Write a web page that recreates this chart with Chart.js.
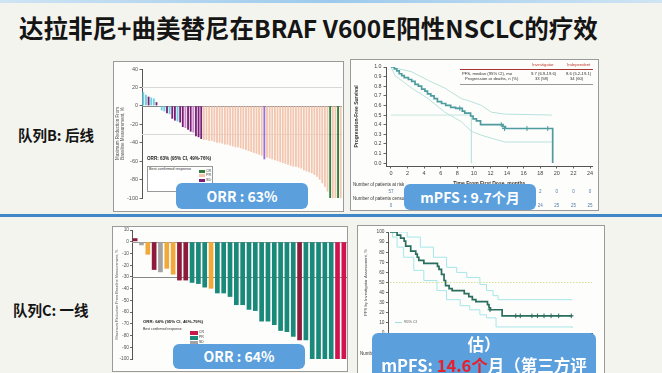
<!DOCTYPE html>
<html>
<head>
<meta charset="utf-8">
<script src="https://cdn.jsdelivr.net/npm/chart.js@4.4.1/dist/chart.umd.min.js"></script>
<style>
  body { margin:0; width:662px; height:373px; overflow:hidden; background:#f4f4ee; position:relative;
         font-family:"Liberation Sans", Arial, sans-serif; }
  .abs { position:absolute; }
  .panel { position:absolute; background:#fdfdfc; border:1px solid #9a9a9a; box-sizing:border-box; }
  canvas { position:absolute; }
  .tag { position:absolute; background:#5b9fdc; border-radius:6px; color:#fff; text-align:center;
         font-family:"Noto Sans CJK SC", sans-serif; font-weight:bold; }
  .cjk { font-family:"Noto Sans CJK SC", sans-serif; font-weight:bold; color:#151515; white-space:nowrap; }
  .tiny { position:absolute; white-space:nowrap; color:#333; line-height:1; }
</style>
</head>
<body>

<div class="abs" style="left:0;top:0;width:662px;height:3px;background:linear-gradient(to right,#cfe4f4,#9ccaec,#cfe4f4)"></div>
<div class="abs cjk" style="left:19px;top:12px;font-size:24.5px;line-height:32px">达拉非尼+曲美替尼在BRAF V600E阳性NSCLC的疗效</div>
<div class="abs" style="left:0;top:214px;width:662px;height:3px;background:#3f87c7"></div>

<div class="abs cjk" style="left:18px;top:125px;font-size:14.5px;line-height:20px">队列B: 后线</div>
<div class="abs cjk" style="left:13px;top:300px;font-size:14.5px;line-height:20px">队列C: 一线</div>

<div class="panel" style="left:113px;top:61px;width:231px;height:151px"></div>
<div class="panel" style="left:350px;top:59px;width:249px;height:152px"></div>
<div class="panel" style="left:112px;top:226px;width:236px;height:146px"></div>
<div class="panel" style="left:357px;top:225px;width:248px;height:150px"></div>

<canvas id="wfB" width="230" height="150" style="left:113px;top:61px"></canvas>
<canvas id="kmB" width="248" height="151" style="left:350px;top:59px"></canvas>
<canvas id="wfC" width="235" height="145" style="left:112px;top:226px"></canvas>
<canvas id="kmC" width="248" height="148" style="left:357px;top:225px"></canvas>

<!-- cohort B waterfall legend -->
<div class="tiny" style="left:147px;top:157px;font-size:4.6px;font-weight:bold;color:#222">ORR: 63% (95% CI, 49%-76%)</div>
<div class="abs" style="left:147px;top:166px;width:66px;height:26px;border:0.8px solid #999;background:#fff;box-sizing:border-box"></div>
<div class="tiny" style="left:149px;top:168px;font-size:3.8px">Best confirmed response</div>
<div class="abs" style="left:199px;top:169.5px;width:6px;height:3px;background:#2f7d3a"></div>
<div class="abs" style="left:199px;top:174px;width:6px;height:3px;background:#f3c6b0"></div>
<div class="abs" style="left:199px;top:178.5px;width:6px;height:3px;background:#7a1f78"></div>
<div class="tiny" style="left:206px;top:169.5px;font-size:3.6px">CR</div>
<div class="tiny" style="left:206px;top:174px;font-size:3.6px">PR</div>
<div class="tiny" style="left:206px;top:178.5px;font-size:3.6px">SD</div>

<!-- cohort B PFS inset table -->
<div class="tiny" style="left:532px;top:62.5px;font-size:4.2px;color:#c0392b">Investigator</div>
<div class="tiny" style="left:567px;top:62.5px;font-size:4.2px;color:#c0392b">Independent</div>
<div class="abs" style="left:460px;top:68.5px;width:133px;height:0.8px;background:#a33"></div>
<div class="tiny" style="left:462px;top:71.5px;font-size:4.2px">PFS, median (95% CI), mo</div>
<div class="tiny" style="left:531px;top:71.5px;font-size:4.2px">9.7 (6.9-19.6)</div>
<div class="tiny" style="left:566px;top:71.5px;font-size:4.2px">8.6 (5.2-19.1)</div>
<div class="tiny" style="left:465px;top:76.5px;font-size:4.2px">Progression or deaths, n (%)</div>
<div class="tiny" style="left:535px;top:76.5px;font-size:4.2px">33 (58)</div>
<div class="tiny" style="left:570px;top:76.5px;font-size:4.2px">34 (60)</div>
<div class="abs" style="left:460px;top:84px;width:133px;height:0.7px;background:#999"></div>

<!-- cohort C waterfall legend -->
<div class="tiny" style="left:143px;top:320px;font-size:4.3px;font-weight:bold;color:#222">ORR: 64% (95% CI, 46%-79%)</div>
<div class="tiny" style="left:143px;top:328px;font-size:3.5px">Best confirmed response</div>
<div class="abs" style="left:190px;top:331px;width:8px;height:3.5px;background:#c41848"></div>
<div class="abs" style="left:190px;top:336px;width:8px;height:3.5px;background:#19897a"></div>
<div class="abs" style="left:190px;top:341px;width:8px;height:3.5px;background:#a3a3a3"></div>
<div class="tiny" style="left:199px;top:331px;font-size:3.4px">CR</div>
<div class="tiny" style="left:199px;top:336px;font-size:3.4px">PR</div>
<div class="tiny" style="left:199px;top:341px;font-size:3.4px">SD</div>

<!-- cohort C PFS legend -->
<div class="abs" style="left:395px;top:322px;width:7px;height:1px;background:#9fe0e2"></div>
<div class="tiny" style="left:404px;top:320px;font-size:4px;color:#555">95% CI</div>

<div class="tag" style="left:176px;top:183px;width:132px;height:26px;font-size:14px;line-height:26px">ORR : 63%</div>
<div class="tag" style="left:404px;top:184px;width:132px;height:26px;font-size:14px;line-height:26px">mPFS : 9.7个月</div>
<div class="tag" style="left:173px;top:344px;width:132px;height:25px;font-size:14px;line-height:25px">ORR : 64%</div>
<div class="tag" style="left:372px;top:333px;width:224px;height:46px;font-size:16.5px;line-height:21px;padding-top:1px;box-sizing:border-box">估）<br>mPFS: <span style="color:#e8202a">14.6个</span>月（第三方评</div>

<script>
// ---- cohort B waterfall ----
var valsB = [15, 12, 10, 9, 8, 4, -1,
  -5, -6, -8, -9, -14, -16, -17, -18, -23, -24, -26, -28, -29, -33, -34, -36,
  -37, -37, -38, -38, -39, -40, -40, -41, -42, -42, -43, -44, -45, -45, -46, -47, -48, -49, -50, -51,
  -52, -53, -54, -58, -56, -57, -58, -59, -60, -61, -62, -63, -64, -65, -66, -66, -67, -68, -70, -71,
  -72, -73, -75, -77, -80, -84, -88, -93, -100, -100, -100, -100, -100];
var respB = ['c', 'c', 'p', 'c', 'c', 'p', 'c',
  'c', 'c', 'p', 'c', 'p', 'p', 'c', 'p', 'p', 'l', 'p', 'p', 'l', 'p', 'p', 'p',
  'r', 'r', 'r', 'r', 'r', 'r', 'r', 'r', 'r', 'r', 'r', 'r', 'r', 'r', 'r', 'r', 'r', 'r', 'r', 'r',
  'r', 'r', 'r', 'v', 'r', 'r', 'r', 'r', 'r', 'r', 'r', 'r', 'r', 'r', 'r', 'r', 'r', 'r', 'r', 'r',
  'r', 'r', 'r', 'r', 'r', 'r', 'r', 'r', 'g', 'r', 'r', 'g', 'r'];
var colB = { c: '#6cd0de', p: '#7a1f78', l: '#c98ccb', r: '#f3c6b0', v: '#9b6fd1', g: '#2f7d3a' };
var ticksB = [40, 20, 0, -20, -40, -60, -80, -100];

// ---- cohort C waterfall ----
var valsC = [3, -3, -11, -24, -26, -23, -28, -33, -33, -35, -36, -39, -40, -44, -44, -47, -54, -54,
  -58, -59, -68, -68, -71, -76, -77, -81, -84, -84, -100, -100, -100, -100, -100, -100];
var respC = ['d', 'n', 'o', 'd', 'n', 'o', 'o', 'd', 'd', 't', 't', 't', 'o', 't', 't', 't', 't', 't',
  't', 't', 't', 't', 't', 't', 't', 't', 'd', 't', 't', 't', 't', 't', 'r', 'r'];
var colC = { d: '#8e1b3c', n: '#a3a3a3', o: '#f2a93b', t: '#19897a', r: '#d0144f' };

// ---- cohort B PFS ----
var kmBTime = [0, 0.4, 0.7, 1.0, 1.3, 1.6, 2.1, 2.5, 2.9, 3.3, 3.7, 4.1, 4.4, 4.8, 5.2, 5.6, 6.1, 6.6, 7.2, 7.8, 8.6, 8.9, 9.6, 9.9, 10.3, 10.8, 13.5, 13.8, 19.5];
var kmBSurv = [1.0, 0.98, 0.96, 0.93, 0.91, 0.89, 0.87, 0.85, 0.82, 0.80, 0.77, 0.75, 0.72, 0.70, 0.67, 0.64, 0.62, 0.60, 0.58, 0.57, 0.54, 0.52, 0.49, 0.46, 0.44, 0.40, 0.38, 0.36, 0];
var ciBUpTime = [0, 2.5, 4.5, 6.5, 8.5, 9.7, 10.9, 12.1, 13.7, 19.4];
var ciBUp = [1.0, 0.95, 0.86, 0.78, 0.67, 0.64, 0.60, 0.53, 0.51, 0.50];
var ciBLoTime = [0, 0.5, 2.5, 4.5, 6.5, 8.5, 9.7, 10.9, 12.9, 13.7, 19.4];
var ciBLo = [1.0, 0.91, 0.78, 0.67, 0.53, 0.43, 0.33, 0.29, 0.24, 0.22, 0.22];
var medBTime = [0, 9.7, 9.7];
var medBSurv = [0.5, 0.5, 0];
var censBTime = [8.3, 13.3, 13.7, 16.4, 18.9];
var censBSurv = [0.57, 0.40, 0.36, 0.36, 0.36];
var riskTimesB = [0, 18, 20, 22, 24];
var atRiskB = [57, 2, 0, 0, 0];
var censoredB = [0, 24, 25, 25, 25];

// ---- cohort C PFS ----
var kmCTime = [0, 1.4, 2.1, 2.8, 3.1, 4.1, 5.1, 5.4, 5.7, 6.7, 9.4, 9.7, 10.2, 10.7, 11.0, 11.7, 12.3, 14.7, 15.6, 16.3, 17.0, 19.3, 19.6, 19.9, 22.2, 36.1];
var kmCSurv = [100, 97, 94, 91, 86, 81, 78, 75, 72, 69, 66, 63, 58, 52, 47, 44, 42, 39, 36, 33, 31, 28, 25, 23, 17, 17];
var ciCUpTime = [0, 3.4, 6.0, 8.6, 11.2, 13.2, 15.2, 17.8, 19.1, 20.4, 21.4, 36.1];
var ciCUp = [100, 95, 85, 75, 65, 60, 55, 48, 42, 37, 33, 33];
var ciCLoTime = [0, 0.5, 1.4, 2.7, 4.7, 6.7, 9.3, 11.2, 13.9, 15.8, 17.8, 19.1, 21.0, 36.1];
var ciCLo = [100, 95, 85, 75, 62, 52, 42, 33, 27, 23, 18, 15, 6, 5];
var medCTime = [0, 40];
var medCSurv = [50, 50];
var censCTime = [19.8, 24.9, 25.8, 28.1, 29.2, 30.5, 31.9, 33.4, 35.9];
var censCSurv = [23, 17, 17, 17, 17, 17, 17, 17, 17];

Chart.defaults.font.family = '"Liberation Sans", Arial, sans-serif';
Chart.defaults.color = '#444';

function pts(xs, ys) {
  return xs.map(function (x, i) { return { x: x, y: ys[i] }; });
}

var refLines = {
  id: 'refLines',
  beforeDatasetsDraw: function (chart, args, opts) {
    var ctx = chart.ctx, y = chart.scales.y, a = chart.chartArea;
    (opts.lines || []).forEach(function (l) {
      var py = Math.round(y.getPixelForValue(l.v)) + 0.5;
      ctx.save();
      ctx.strokeStyle = l.c;
      ctx.lineWidth = l.w || 1;
      ctx.beginPath(); ctx.moveTo(a.left, py); ctx.lineTo(a.right, py); ctx.stroke();
      ctx.restore();
    });
  }
};

var riskTable = {
  id: 'riskTable',
  afterDraw: function (chart, args, opts) {
    var ctx = chart.ctx, x = chart.scales.x;
    ctx.save();
    (opts.rows || []).forEach(function (r) {
      ctx.font = '4.5px "Liberation Sans", Arial';
      ctx.fillStyle = '#333';
      ctx.textAlign = 'left';
      ctx.fillText(r.label, 3, r.y);
      ctx.fillStyle = '#4f7aa8';
      ctx.textAlign = 'center';
      (r.times || []).forEach(function (t, i) {
        ctx.fillText(String(r.values[i]), x.getPixelForValue(t), r.y + 7);
      });
    });
    ctx.restore();
  }
};

var axisStyle = { color: '#555' };

new Chart(document.getElementById('wfB'), {
  type: 'bar',
  data: {
    labels: valsB.map(function (v, i) { return i + 1; }),
    datasets: [{ data: valsB, backgroundColor: respB.map(function (r) { return colB[r]; }),
      barPercentage: 0.7, categoryPercentage: 1 }]
  },
  options: {
    responsive: false, animation: false, devicePixelRatio: 1,
    layout: { padding: { top: 8, bottom: 13, right: 1, left: 0 } },
    plugins: {
      legend: { display: false }, tooltip: { enabled: false },
      refLines: { lines: [{ v: 20, c: '#d8d8d8' }, { v: -30, c: '#d8d8d8' }, { v: 0, c: '#888' }] }
    },
    scales: {
      x: { display: false },
      y: {
        min: -100, max: 40,
        afterBuildTicks: function (s) { s.ticks = ticksB.map(function (v) { return { value: v }; }); },
        ticks: { font: { size: 5.5 }, color: '#555', padding: 1.5 },
        grid: { drawOnChartArea: false, tickLength: 2.5, color: '#666' },
        border: axisStyle,
        title: { display: true, text: ['Maximum Reduction From', 'Baseline Measurement, %'],
          font: { size: 4.5 }, color: '#555', padding: { top: 2, bottom: 1 } },
        afterFit: function (s) { s.width = 29; }
      }
    }
  },
  plugins: [refLines]
});

new Chart(document.getElementById('wfC'), {
  type: 'bar',
  data: {
    labels: valsC.map(function (v, i) { return i + 1; }),
    datasets: [{ data: valsC, backgroundColor: respC.map(function (r) { return colC[r]; }),
      barPercentage: 0.74, categoryPercentage: 1 }]
  },
  options: {
    responsive: false, animation: false, devicePixelRatio: 1,
    layout: { padding: { top: 4, bottom: 12, right: 0, left: 0 } },
    plugins: {
      legend: { display: false }, tooltip: { enabled: false },
      refLines: { lines: [{ v: 0, c: '#999' }, { v: -30, c: '#888' }] }
    },
    scales: {
      x: { display: false },
      y: {
        min: -100, max: 10,
        ticks: { stepSize: 10, font: { size: 4.8 }, color: '#555', padding: 1 },
        grid: { drawOnChartArea: false, tickLength: 2, color: '#666' },
        border: axisStyle,
        title: { display: true, text: 'Maximum Reduction From Baseline Measurement, %',
          font: { size: 3.8 }, color: '#555', padding: { top: 3, bottom: 1 } },
        afterFit: function (s) { s.width = 20; }
      }
    }
  },
  plugins: [refLines]
});

new Chart(document.getElementById('kmB'), {
  type: 'line',
  data: {
    datasets: [
      { data: pts(kmBTime, kmBSurv), borderColor: '#4e9c9e', borderWidth: 1.7, stepped: true, pointRadius: 0 },
      { type: 'scatter', data: pts(censBTime, censBSurv), pointStyle: 'cross', pointRadius: 2.5,
        borderColor: '#4e9c9e', borderWidth: 1 },
      { data: pts(ciBUpTime, ciBUp), borderColor: '#b8e2dd', borderWidth: 1, pointRadius: 0 },
      { data: pts(ciBLoTime, ciBLo), borderColor: '#b8e2dd', borderWidth: 1, pointRadius: 0 },
      { data: pts(medBTime, medBSurv), borderColor: '#bfe3de', borderWidth: 0.9, pointRadius: 0 }
    ]
  },
  options: {
    responsive: false, animation: false, devicePixelRatio: 1,
    layout: { padding: { top: 8, bottom: 23, right: 5.5, left: 0 } },
    plugins: {
      legend: { display: false }, tooltip: { enabled: false },
      riskTable: { rows: [
        { label: 'Number of patients at risk', y: 127, times: riskTimesB, values: atRiskB },
        { label: 'Number of patients censored', y: 141, times: riskTimesB, values: censoredB }
      ] }
    },
    scales: {
      x: {
        type: 'linear', min: -0.6, max: 24.3,
        ticks: { stepSize: 2, includeBounds: false, font: { size: 5.5 }, color: '#444', padding: 2 },
        grid: { drawOnChartArea: false, tickLength: 2.5, color: '#666' },
        border: axisStyle,
        title: { display: true, text: 'Time From First Dose, months', font: { size: 5, weight: 'bold' },
          color: '#333', padding: { top: 1, bottom: 0 } },
        afterFit: function (s) { s.height = 21; }
      },
      y: {
        min: -0.03, max: 1.0,
        ticks: { stepSize: 0.1, includeBounds: false, font: { size: 5.3 }, color: '#444', padding: 2,
          callback: function (v) { return v.toFixed(1); } },
        grid: { drawOnChartArea: false, tickLength: 2.5, color: '#666' },
        border: axisStyle,
        title: { display: true, text: 'Progression-Free Survival', font: { size: 5, weight: 'bold' },
          color: '#333', padding: { top: 4, bottom: 2 } },
        afterFit: function (s) { s.width = 36; }
      }
    }
  },
  plugins: [riskTable]
});

new Chart(document.getElementById('kmC'), {
  type: 'line',
  data: {
    datasets: [
      { data: pts(kmCTime, kmCSurv), borderColor: '#2a6e5e', borderWidth: 1.7, stepped: true, pointRadius: 0 },
      { type: 'scatter', data: pts(censCTime, censCSurv), pointStyle: 'cross', pointRadius: 2.3,
        borderColor: '#2a6e5e', borderWidth: 1 },
      { data: pts(ciCUpTime, ciCUp), borderColor: '#a6e6e8', borderWidth: 1, stepped: true, pointRadius: 0 },
      { data: pts(ciCLoTime, ciCLo), borderColor: '#a6e6e8', borderWidth: 1, stepped: true, pointRadius: 0 },
      { data: pts(medCTime, medCSurv), borderColor: '#d3e29a', borderWidth: 1, borderDash: [1.5, 1.5], pointRadius: 0 }
    ]
  },
  options: {
    responsive: false, animation: false, devicePixelRatio: 1,
    layout: { padding: { top: 7, bottom: 22, right: 13, left: 0 } },
    plugins: {
      legend: { display: false }, tooltip: { enabled: false },
      riskTable: { rows: [{ label: 'Number of patients at risk', y: 130 }] }
    },
    scales: {
      x: {
        type: 'linear', min: -0.4, max: 40,
        ticks: { stepSize: 3, includeBounds: false, font: { size: 5 }, color: '#444', padding: 2 },
        grid: { drawOnChartArea: false, tickLength: 2, color: '#666' },
        border: axisStyle,
        afterFit: function (s) { s.height = 18; }
      },
      y: {
        min: 0, max: 100,
        ticks: { stepSize: 10, font: { size: 4.8 }, color: '#444', padding: 1.5 },
        grid: { drawOnChartArea: false, tickLength: 2, color: '#666' },
        border: axisStyle,
        title: { display: true, text: 'PFS by Investigator Assessment, %', font: { size: 4.2 },
          color: '#444', padding: { top: 6, bottom: 1 } },
        afterFit: function (s) { s.width = 31; }
      }
    }
  },
  plugins: [riskTable]
});
</script>
</body>
</html>
